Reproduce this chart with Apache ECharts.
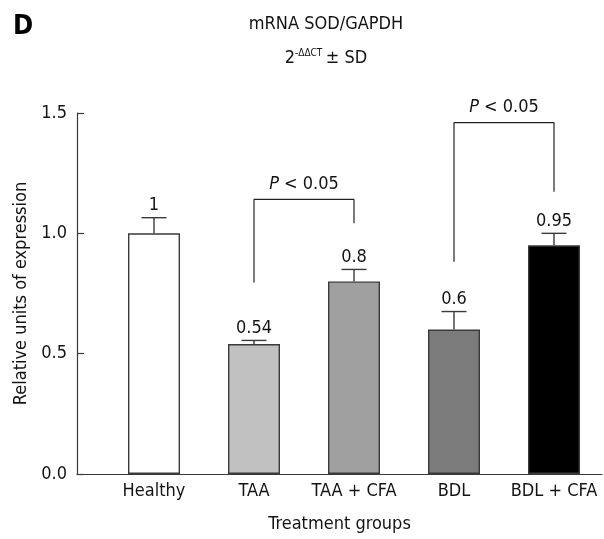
<!DOCTYPE html>
<html>
<head>
<meta charset="utf-8">
<script src="https://cdn.jsdelivr.net/npm/echarts@6/dist/echarts.min.js"></script>
<style>
  html, body { margin: 0; padding: 0; background: #fff; }
  #chart { width: 604px; height: 539px; }
</style>
</head>
<body>
<div id="chart"></div>
<script>
// Treatment groups and mean relative expression (2^-ΔΔCT)
const categories = ['Healthy', 'TAA', 'TAA + CFA', 'BDL', 'BDL + CFA'];
const means = [1, 0.54, 0.8, 0.6, 0.95];
const sds = [0.065, 0.015, 0.05, 0.075, 0.05];
const barColors = ['#ffffff', '#c0c1c0', '#a0a0a0', '#7b7b7b', '#000000'];
const yTicks = [0, 0.5, 1.0, 1.5];

// Significance brackets: [fromIndex, toIndex, leftFootY, rightFootY, barY, text]
const brackets = [
  [1, 2, 0.796, 1.042, 1.141, 'P < 0.05'],
  [3, 4, 0.882, 1.173, 1.46, 'P < 0.05']
];

const FONT = "'DejaVu Sans Condensed', 'Liberation Sans', sans-serif";
const INK = '#141414';
const EDGE = '#3a3a3a';

const chart = echarts.init(document.getElementById('chart'), null, { renderer: 'canvas' });

const bracketSeries = brackets.map(b => ({
  type: 'line',
  xAxisIndex: 2,
  yAxisIndex: 1,
  symbol: 'none',
  silent: true,
  animation: false,
  lineStyle: { color: '#222', width: 1.2 },
  data: [[b[0], b[2]], [b[0], b[4]], [b[1], b[4]], [b[1], b[3]]]
}));

const option = {
  animation: false,
  backgroundColor: '#fff',
  textStyle: { fontFamily: FONT },
  title: [
    {
      text: 'mRNA SOD/GAPDH',
      subtext: '{n|2}{s|-ΔΔCT} {n|± SD}',
      left: 321,
      textAlign: 'center',
      top: 10,
      itemGap: 15,
      textStyle: { fontFamily: FONT, fontSize: 18, fontWeight: 'normal', color: INK },
      subtextStyle: {
        fontFamily: FONT,
        rich: {
          n: { fontFamily: FONT, fontSize: 18, color: INK },
          s: { fontFamily: FONT, fontSize: 10, color: INK, verticalAlign: 'top', padding: [0, 0, 10, 0] }
        }
      }
    },
    {
      text: 'D',
      left: 8,
      top: 8,
      textStyle: { fontFamily: FONT, fontSize: 27, fontWeight: 'bold', color: '#000' }
    }
  ],
  grid: [
    { left: 77, right: 2, top: 113, bottom: 65, containLabel: false },
    { left: 104, width: 501, top: 113, bottom: 65, containLabel: false }
  ],
  xAxis: [
    {
      // frame axis spanning the full plot width
      gridIndex: 0,
      type: 'value',
      min: 0,
      max: 1,
      axisLine: { show: true, lineStyle: { color: EDGE, width: 1.2 } },
      axisTick: { show: false },
      axisLabel: { show: false },
      splitLine: { show: false },
      name: 'Treatment groups',
      nameLocation: 'middle',
      nameGap: 41,
      nameTextStyle: { fontFamily: FONT, fontSize: 18, color: INK }
    },
    {
      gridIndex: 1,
      type: 'category',
      data: categories,
      boundaryGap: true,
      axisLine: { show: false },
      axisTick: { show: true, inside: true, alignWithLabel: true, length: 7, lineStyle: { color: EDGE, width: 1.2 } },
      axisLabel: { fontFamily: FONT, fontSize: 18, color: INK, margin: 8, interval: 0 },
      splitLine: { show: false }
    },
    {
      gridIndex: 1,
      type: 'value',
      min: -0.5,
      max: 4.5,
      show: false
    }
  ],
  yAxis: [
    {
      gridIndex: 0,
      type: 'value',
      min: 0,
      max: 1.5,
      interval: 0.5,
      axisLine: { show: true, lineStyle: { color: EDGE, width: 1.2 } },
      axisTick: { show: true, inside: true, length: 7, lineStyle: { color: EDGE, width: 1.2 } },
      axisLabel: {
        fontFamily: FONT, fontSize: 18, color: INK, margin: 10,
        customValues: yTicks,
        formatter: v => v.toFixed(1)
      },
      splitLine: { show: false },
      name: 'Relative units of expression',
      nameLocation: 'middle',
      nameGap: 44,
      nameTextStyle: { fontFamily: FONT, fontSize: 18, color: INK }
    },
    {
      gridIndex: 1,
      type: 'value',
      min: 0,
      max: 1.5,
      show: false
    }
  ],
  series: [
    {
      type: 'bar',
      xAxisIndex: 1,
      yAxisIndex: 1,
      barWidth: 52,
      data: means.map((v, i) => ({
        value: v,
        itemStyle: { color: barColors[i], borderColor: EDGE, borderWidth: 1.4 }
      }))
    },
    {
      // upper error whiskers with value labels
      type: 'custom',
      xAxisIndex: 1,
      yAxisIndex: 1,
      silent: true,
      data: means.map((v, i) => [i, v, sds[i]]),
      renderItem: (params, api) => {
        const i = api.value(0);
        const v = api.value(1);
        const sd = api.value(2);
        const base = api.coord([i, v]);
        const top = api.coord([i, v + sd]);
        const half = 12.5;
        const stroke = { stroke: EDGE, lineWidth: 1.4 };
        return {
          type: 'group',
          children: [
            { type: 'line', shape: { x1: base[0], y1: base[1], x2: top[0], y2: top[1] }, style: stroke },
            { type: 'line', shape: { x1: top[0] - half, y1: top[1], x2: top[0] + half, y2: top[1] }, style: stroke },
            {
              type: 'text',
              x: top[0],
              y: top[1] - 3,
              style: {
                text: String(means[params.dataIndex]),
                align: 'center',
                verticalAlign: 'bottom',
                fontFamily: FONT,
                fontSize: 18,
                fill: INK
              }
            }
          ]
        };
      }
    },
    ...bracketSeries,
    {
      // significance labels above the brackets
      type: 'custom',
      xAxisIndex: 2,
      yAxisIndex: 1,
      silent: true,
      data: brackets.map(b => [(b[0] + b[1]) / 2, b[4]]),
      renderItem: (params, api) => {
        const p = api.coord([api.value(0), api.value(1)]);
        return {
          type: 'text',
          x: p[0],
          y: p[1] - 6,
          style: {
            text: '{i|P} < 0.05',
            align: 'center',
            verticalAlign: 'bottom',
            fontFamily: FONT,
            fontSize: 18,
            fill: INK,
            rich: {
              i: { fontFamily: FONT, fontSize: 18, fontStyle: 'italic', fill: INK }
            }
          }
        };
      }
    }
  ]
};

chart.setOption(option);
</script>
</body>
</html>
